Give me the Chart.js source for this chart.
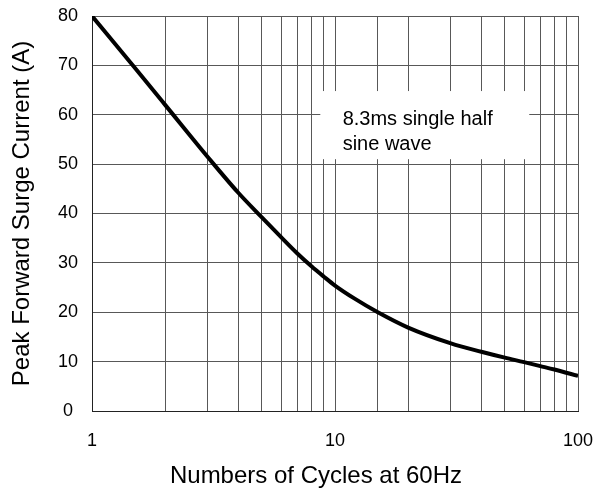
<!DOCTYPE html>
<html><head><meta charset="utf-8">
<script src="https://cdn.jsdelivr.net/npm/chart.js@4.4.0/dist/chart.umd.min.js"></script>
<style>html,body{margin:0;padding:0;background:#fff}#wrap{width:600px;height:490px;position:relative}</style>
</head><body><div id="wrap"><canvas id="c"></canvas></div>
<script>
// ---- data ----
const cycles  = [1, 1.5, 2, 3, 4, 5, 6, 7, 8, 9, 10, 12, 15, 20, 30, 40, 50, 60, 70, 80, 100];
const current = [80, 69.5, 62.0, 51.4, 44.2, 39.2, 35.2, 31.9, 29.3, 27.2, 25.4, 22.8, 20.0, 16.9, 13.7, 12.0, 10.8, 9.9, 9.1, 8.4, 7.1];
const xTickLabels = [1, 10, 100];
const yTickValues = [0, 10, 20, 30, 40, 50, 60, 70, 80];
const xTitle = 'Numbers of Cycles at 60Hz';
const yTitle = 'Peak Forward Surge Current (A)';
const noteLines = ['8.3ms single half', 'sine wave'];
const noteBox = {x0: 8.7, x1: 63, y0: 51, y1: 64.8};
const noteAnchor = {x: 10.75, y: 57.9};

const FONT = '"Liberation Sans", Arial, Helvetica, sans-serif';
const GRID = '#585858';

const notePlugin = {
  id: 'note',
  beforeDatasetsDraw(chart) {
    const {ctx, scales: {x, y}} = chart;
    const l = x.getPixelForValue(noteBox.x0), r = x.getPixelForValue(noteBox.x1);
    const t = y.getPixelForValue(noteBox.y1), b = y.getPixelForValue(noteBox.y0);
    ctx.save();
    ctx.fillStyle = '#fff';
    ctx.fillRect(l, t, r - l, b - t);
    ctx.fillStyle = '#000';
    ctx.font = '20px ' + FONT;
    ctx.textAlign = 'left';
    ctx.textBaseline = 'alphabetic';
    const tx = x.getPixelForValue(noteAnchor.x);
    const ty = y.getPixelForValue(noteAnchor.y);
    noteLines.forEach((s, i) => ctx.fillText(s, tx, ty + i * 25));
    ctx.restore();
  },
  afterDraw(chart) {
    const {ctx} = chart;
    ctx.save();
    ctx.fillStyle = '#000';
    ctx.font = '24px ' + FONT;
    ctx.textAlign = 'center';
    ctx.textBaseline = 'alphabetic';
    ctx.fillText(xTitle, 316, 483);
    ctx.restore();
  }
};

new Chart(document.getElementById('c'), {
  type: 'line',
  data: {
    datasets: [{
      data: cycles.map((c, i) => ({x: c, y: current[i]})),
      borderColor: '#000',
      borderWidth: 4,
      pointRadius: 0,
      fill: false,
      cubicInterpolationMode: 'monotone'
    }]
  },
  options: {
    responsive: true,
    maintainAspectRatio: false,
    animation: false,
    layout: {padding: {left: 0, top: 16, right: 22, bottom: 0}},
    plugins: {legend: {display: false}, tooltip: {enabled: false}},
    scales: {
      x: {
        type: 'logarithmic',
        min: 1, max: 100,
        afterFit: s => { s.height = 79; s.paddingLeft = 0; s.paddingRight = 0; },
        grid: {color: GRID, lineWidth: 1, drawTicks: false},
        border: {color: '#222', width: 1},
        ticks: {
          autoSkip: false, maxRotation: 0, padding: 19,
          color: '#000', font: {family: FONT, size: 18},
          callback: v => xTickLabels.includes(v) ? String(v) : ''
        }
      },
      y: {
        type: 'linear',
        min: 0, max: 80,
        afterFit: s => { s.width = 92; s.paddingTop = 0; s.paddingBottom = 0; },
        afterBuildTicks: s => { s.ticks = yTickValues.map(v => ({value: v})); },
        grid: {color: GRID, lineWidth: 1, drawTicks: false},
        border: {color: '#222', width: 1},
        title: {display: true, text: yTitle, color: '#000', font: {family: FONT, size: 24}, padding: {top: 8, bottom: 0}},
        ticks: {
          crossAlign: 'center', padding: 14,
          color: '#000', font: {family: FONT, size: 18}
        }
      }
    }
  },
  plugins: [notePlugin]
});
</script>
</body></html>
